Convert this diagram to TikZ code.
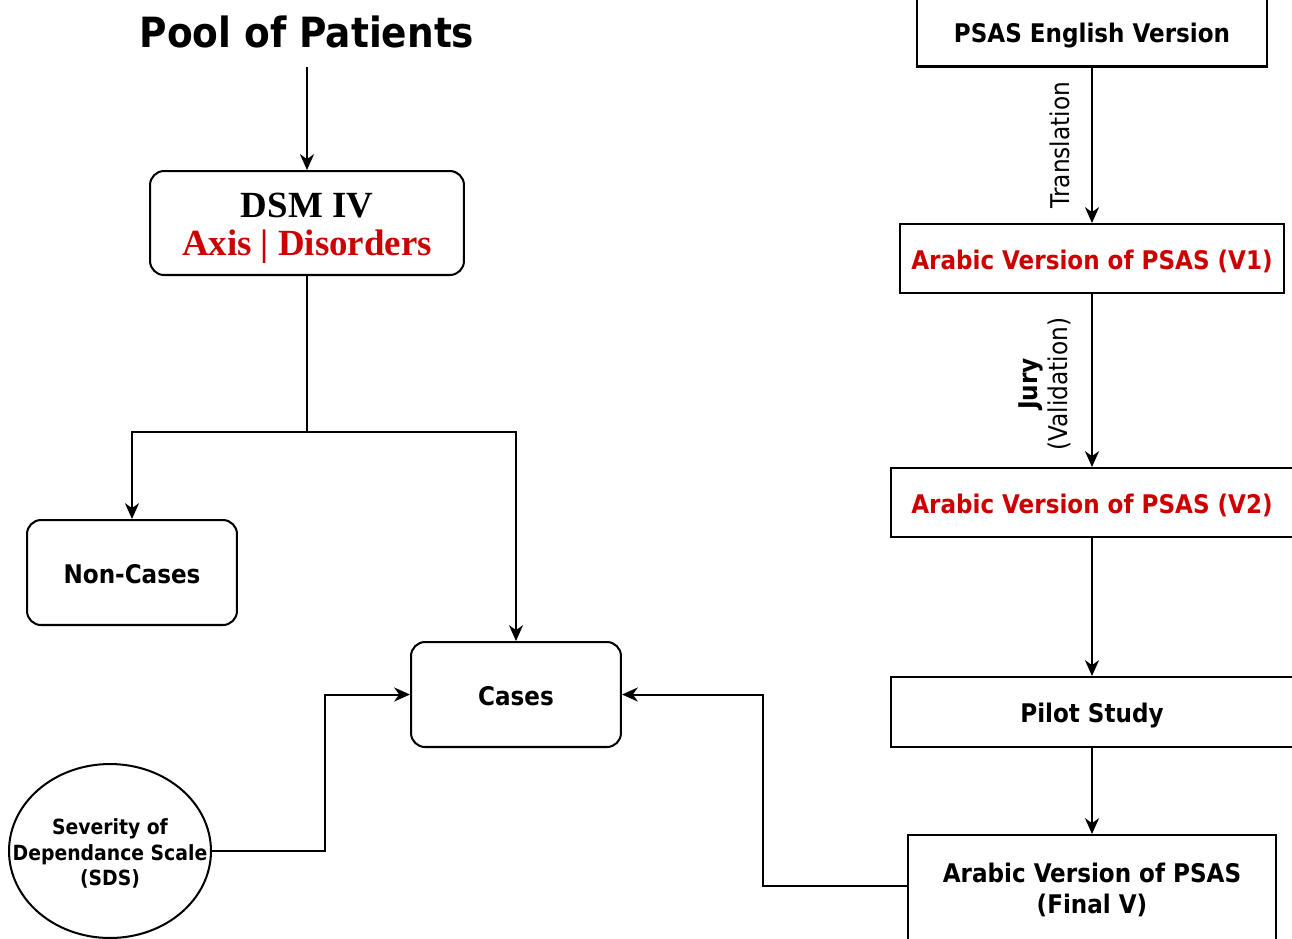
\documentclass[tikz,border=0pt]{standalone}
\usepackage{fontspec}
\newfontfamily\tah{DejaVu Sans Condensed}
\newfontfamily\geo{Liberation Serif}
\usetikzlibrary{arrows.meta,shapes.geometric}
\definecolor{dred}{HTML}{CC0000}
\begin{document}
\begin{tikzpicture}[x=0.02cm,y=-0.02cm,
  lw/.style={line width=1.15pt},
  box/.style={draw,lw,align=center,inner sep=0pt,font=\tah\bfseries\fontsize{14.6}{18}\selectfont},
  sl/.style={text height=13.5pt,text depth=1pt},
  rbox/.style={box,rounded corners=8pt},
  conn/.style={lw,-{Stealth[length=9pt,width=8pt,inset=2.8pt]}},
  lbl/.style={rotate=90,align=center,font=\tah\fontsize{14.7}{17}\selectfont}]
\useasboundingbox (0,0) rectangle (1292,938);
\clip (0,0) rectangle (1292,938);

% left column
\node[font=\tah\bfseries\fontsize{23.7}{29}\selectfont] (title) at (307,32) {Pool of Patients};
\coordinate (tbot) at (307,67);
\node[rbox,minimum width=6.28cm,minimum height=2.08cm,font=\geo\bfseries\fontsize{21}{21.6}\selectfont] (dsm) at (307,223) {\raisebox{0pt}[0.93em][0pt]{DSM IV}\\\textcolor{dred}{Axis | Disorders}};
\coordinate (split) at (307,432);
\node[rbox,sl,minimum width=4.2cm,minimum height=2.1cm] (nc) at (132,572.5) {Non-Cases};
\node[rbox,sl,minimum width=4.2cm,minimum height=2.1cm] (cases) at (516,694.5) {Cases};
\node[draw,lw,ellipse,minimum width=4.04cm,minimum height=3.48cm,inner sep=0pt] (sds) at (110,851) {};
\node[align=center,inner sep=0pt,font=\tah\bfseries\fontsize{11.9}{14.5}\selectfont] (sdstext) at (110,853.5) {Severity of\\Dependance Scale\\(SDS)};

% right column
\node[box,sl,minimum width=7.02cm,minimum height=1.4cm] (eng) at (1092,31.5) {PSAS English Version};
\node[box,sl,minimum width=7.68cm,minimum height=1.38cm,text=dred] (v1) at (1092,258.5) {Arabic Version of PSAS (V1)};
\node[box,sl,minimum width=8.04cm,minimum height=1.38cm,text=dred] (v2) at (1092,502.5) {Arabic Version of PSAS (V2)};
\node[box,sl,minimum width=8.04cm,minimum height=1.4cm] (pilot) at (1092,712) {Pilot Study};
\node[box,minimum width=7.36cm,minimum height=2.2cm] (fin) at (1092,890) {Arabic Version of PSAS\\(Final V)};

\node[lbl] (trl) at (1060,145) {Translation};
\node[lbl] (jury) at (1045,384) {{\bfseries Jury}\\(Validation)};

% connectors
\draw[conn] (tbot) -- (dsm.north);
\draw[lw] (dsm.south) -- (split);
\draw[conn] (split) -| (nc.north);
\draw[conn] (split) -| (cases.north);
\draw[conn] (sds.east) -- ++(113,0) |- (cases.west);
\draw[conn] ([yshift=0.08cm]fin.west) -- ++(-144,0) |- (cases.east);
\draw[conn] (eng.south) -- (v1.north);
\draw[conn] (v1.south) -- (v2.north);
\draw[conn] (v2.south) -- (pilot.north);
\draw[conn] (pilot.south) -- (fin.north);
\end{tikzpicture}
\end{document}
